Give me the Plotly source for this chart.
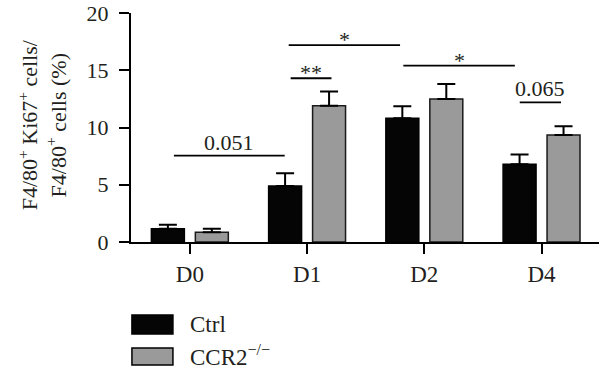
import plotly.graph_objects as go

# ---- data ----
categories = ["D0", "D1", "D2", "D4"]
ctrl_values = [1.15, 4.9, 10.8, 6.8]
ctrl_errors = [0.35, 1.1, 1.05, 0.85]
ccr2_values = [0.85, 11.9, 12.5, 9.35]
ccr2_errors = [0.3, 1.25, 1.3, 0.75]
y_ticks = [0, 5, 10, 15, 20]
series_names = ["Ctrl", "CCR2<sup>−/−</sup>"]
y_title = "F4/80<sup>+</sup> Ki67<sup>+</sup> cells/<br>F4/80<sup>+</sup> cells (%)"

# significance brackets: (x start, x end, y level, label)
bracket_x0 = [-0.136, 0.86, 0.843, 1.821, 2.814]
bracket_x1 = [0.809, 1.208, 1.793, 2.772, 3.166]
bracket_y = [7.54, 14.3, 17.2, 15.4, 12.2]
bracket_labels = ["0.051", "**", "*", "*", "0.065"]

FONT = "Liberation Serif, Times New Roman, serif"
TXT = "#231f20"
BLACK_FILL = "#050505"
GRAY_FILL = "#9a9a9a"

xpos = list(range(len(categories)))

fig = go.Figure()
fig.add_trace(go.Bar(
    x=xpos, y=ctrl_values, name=series_names[0],
    marker=dict(color=BLACK_FILL, line=dict(color="#000000", width=1.5)),
    error_y=dict(type="data", symmetric=False, array=ctrl_errors,
                 arrayminus=[0] * len(ctrl_errors), color="#000000",
                 thickness=2, width=9),
))
fig.add_trace(go.Bar(
    x=xpos, y=ccr2_values, name=series_names[1],
    marker=dict(color=GRAY_FILL, line=dict(color="#1a1a1a", width=1.5)),
    error_y=dict(type="data", symmetric=False, array=ccr2_errors,
                 arrayminus=[0] * len(ccr2_errors), color="#000000",
                 thickness=2, width=9),
))

shapes = []
annotations = []
for x0, x1, yv, lab in zip(bracket_x0, bracket_x1, bracket_y, bracket_labels):
    shapes.append(dict(type="line", xref="x", yref="y", x0=x0, x1=x1, y0=yv, y1=yv,
                       line=dict(color="#000000", width=1.8)))
    is_star = "*" in lab
    annotations.append(dict(x=(x0 + x1) / 2, y=yv, xref="x", yref="y", text=lab,
                            showarrow=False, yanchor="bottom",
                            yshift=-9 if is_star else -1,
                            font=dict(family=FONT, size=22, color=TXT)))

# rotated y-axis title
annotations.append(dict(x=-0.19, y=0.51, xref="paper", yref="paper", text=y_title,
                        showarrow=False, textangle=-90, xanchor="center", yanchor="middle",
                        font=dict(family=FONT, size=22, color=TXT)))

# legend drawn as layout decoration (large swatches as in the reference)
legend_fills = [BLACK_FILL, GRAY_FILL]
legend_y = [(-0.319, -0.402), (-0.463, -0.537)]
legend_text_y = [-0.362, -0.495]
for fill, (ya, yb), ty, nm in zip(legend_fills, legend_y, legend_text_y, series_names):
    shapes.append(dict(type="rect", xref="paper", yref="paper", x0=0.002, x1=0.0896,
                       y0=yb, y1=ya, fillcolor=fill,
                       line=dict(color="#000000", width=1.5)))
    annotations.append(dict(x=0.122, y=ty, xref="paper", yref="paper", text=nm,
                            showarrow=False, xanchor="left", yanchor="middle",
                            font=dict(family=FONT, size=23, color=TXT)))

fig.update_layout(
    width=600, height=374,
    margin=dict(l=131, r=1, t=13, b=132, autoexpand=False),
    paper_bgcolor="white", plot_bgcolor="white",
    barmode="group", bargap=0.25, bargroupgap=0.25,
    showlegend=False,
    font=dict(family=FONT, size=22, color=TXT),
    shapes=shapes, annotations=annotations,
    xaxis=dict(
        range=[-0.502, 3.49], tickvals=xpos, ticktext=categories,
        showline=True, linecolor="#000000", linewidth=2,
        ticks="outside", ticklen=10, tickwidth=2, tickcolor="#000000",
        tickfont=dict(family=FONT, size=23, color=TXT),
        showgrid=False, zeroline=False, ticklabelstandoff=0, automargin=False,
    ),
    yaxis=dict(
        range=[0, 20], tickvals=y_ticks,
        showline=True, linecolor="#000000", linewidth=2,
        ticks="outside", ticklen=10, tickwidth=2, tickcolor="#000000",
        tickfont=dict(family=FONT, size=22, color=TXT),
        showgrid=False, zeroline=False, ticklabelstandoff=6, automargin=False,
    ),
)

fig.write_html(
    "out.html",
    config={"displayModeBar": False},
    post_script="document.body.style.margin='0';document.body.style.padding='0';"
                "document.documentElement.style.overflow='hidden';",
)
